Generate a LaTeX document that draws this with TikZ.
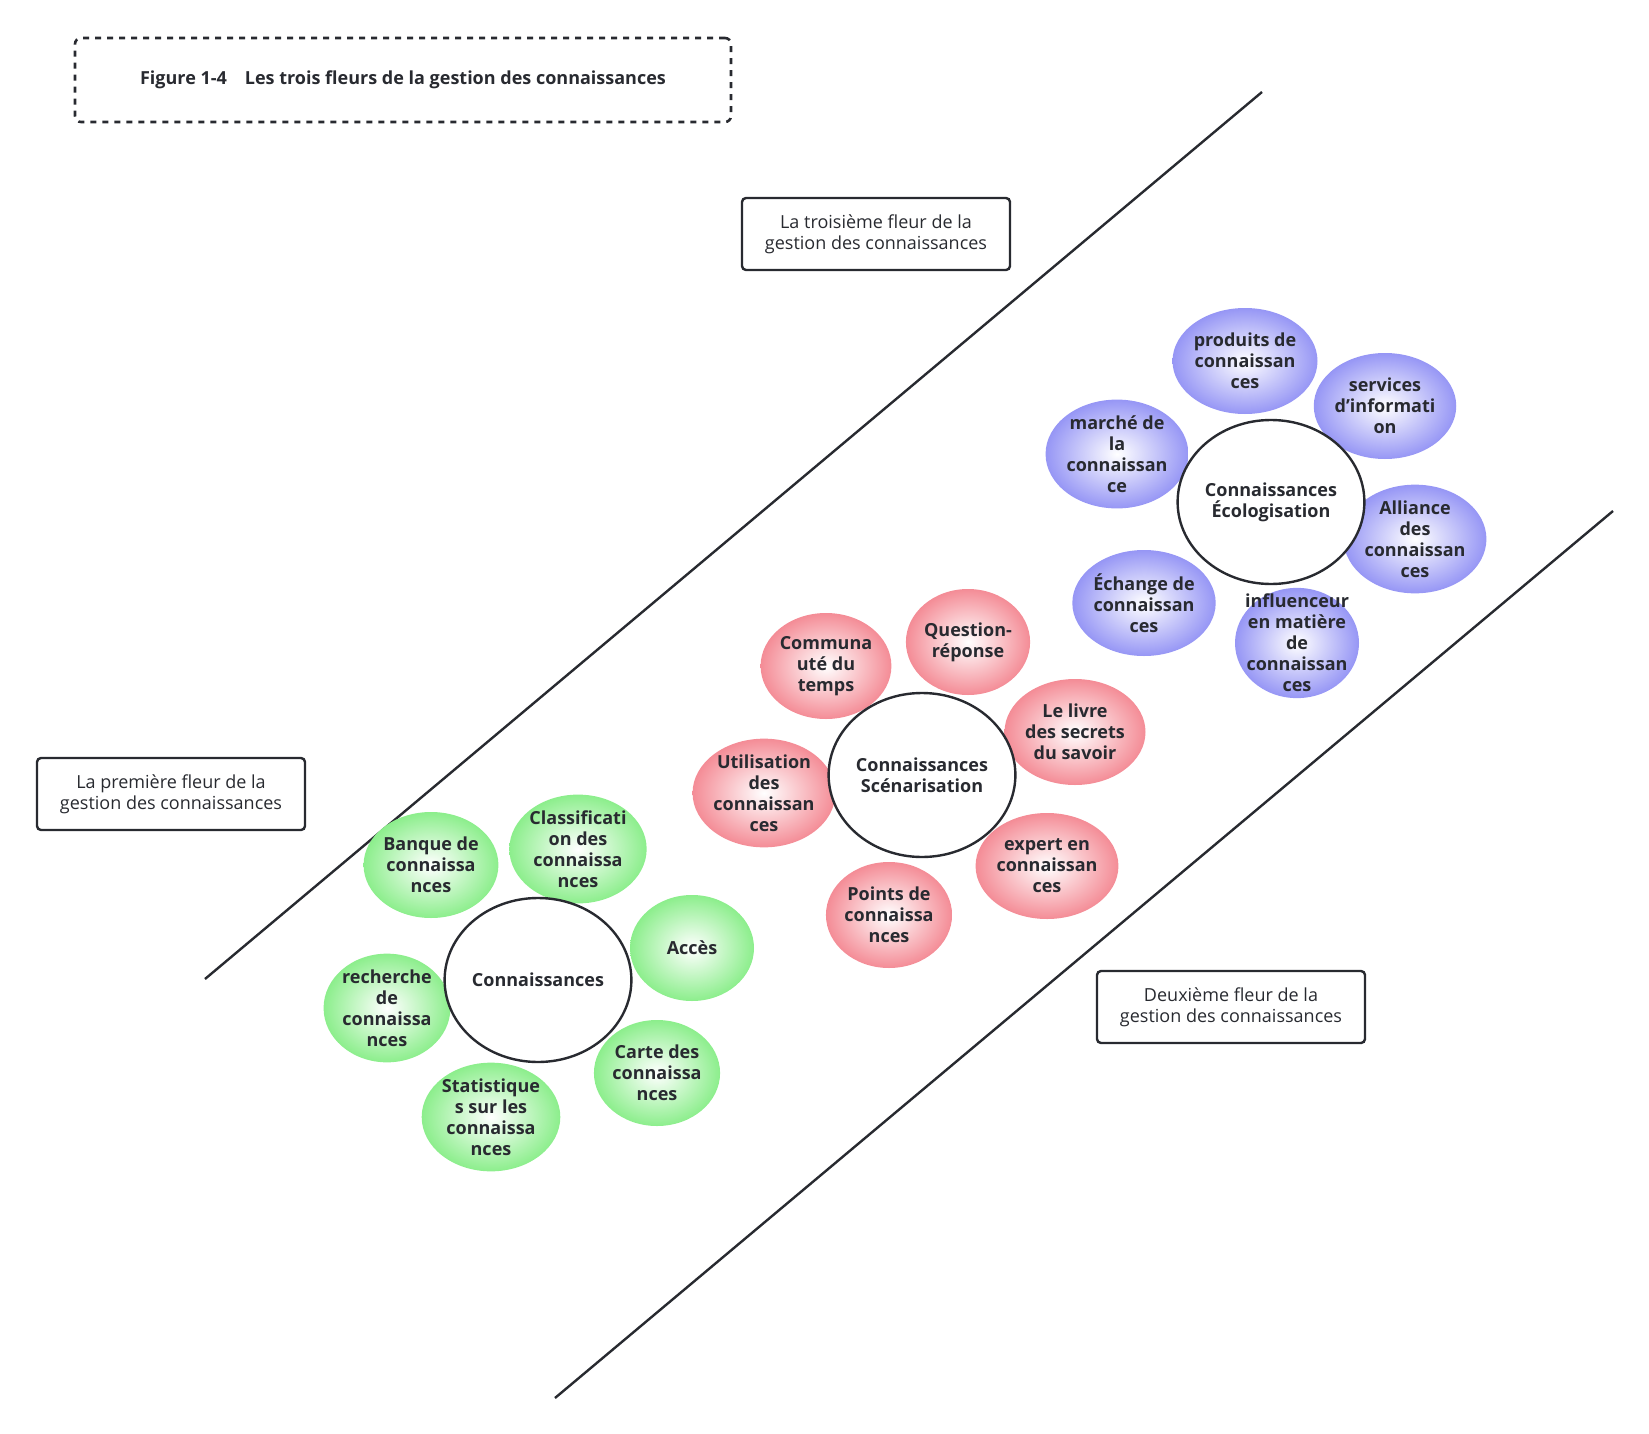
\documentclass[tikz,border=0pt]{standalone}
\usepackage{fontspec}
\setmainfont{Open Sans}
\usetikzlibrary{shapes.geometric}
\definecolor{gp}{RGB}{140,238,140}
\definecolor{rp}{RGB}{244,140,150}
\definecolor{bp}{RGB}{150,150,245}
\definecolor{ink}{RGB}{40,42,48}
\begin{document}
\begin{tikzpicture}[x=0.5pt,y=-0.5pt, font=\fontsize{9}{10.5}\selectfont\bfseries,
    petal/.style = {ellipse, minimum width=62pt, minimum height=53pt, inner sep=0pt, align=center, text=ink},
    green/.style = {petal, shading=radial, inner color=white, outer color=gp},
    red/.style = {petal, shading=radial, inner color=white, outer color=rp},
    blue/.style = {petal, shading=radial, inner color=white, outer color=bp},
    core/.style = {ellipse, draw=ink, line width=1.2pt, fill=white, inner sep=0pt, minimum width=89pt, minimum height=82pt, align=center, text=ink},
    label/.style = {draw=ink, line width=1.2pt, rounded corners=2pt, minimum width=134pt, minimum height=36pt, align=center, font=\fontsize{9}{10.5}\selectfont, text=ink}]
    \useasboundingbox (0,0) rectangle (1649,1434);

    % title and captions
    \node[draw=ink, dashed, line width=1.3pt, rounded corners=3pt, minimum width=328pt, minimum height=42pt, text=ink] (title) at (403,80) {Figure 1-4\quad Les trois fleurs de la gestion des connaissances};
    \node[label] (l3) at (876,234) {La troisième fleur de la\\gestion des connaissances};
    \node[label] (l1) at (171,794) {La première fleur de la\\gestion des connaissances};
    \node[label] (l2) at (1231,1007) {Deuxième fleur de la\\gestion des connaissances};

    % borders of the band
    \coordinate (a1) at (205,979);
    \coordinate (a2) at (1262,92);
    \coordinate (b1) at (555,1398);
    \coordinate (b2) at (1613,511);
    \draw[ink, line width=1.2pt] (a1) -- (a2);
    \draw[ink, line width=1.2pt] (b1) -- (b2);

    % first flower
    \node[green] (g1) at (431,865) {Banque de\\connaissa\\nces};
    \node[green] (g2) at (578,849) {Classificati\\on des\\connaissa\\nces};
    \node[green] (g3) at (692,948) {Accès};
    \node[green] (g4) at (657,1073) {Carte des\\connaissa\\nces};
    \node[green] (g5) at (491,1117) {Statistique\\s sur les\\connaissa\\nces};
    \node[green] (g6) at (387,1008) {recherche\\de\\connaissa\\nces};
    \node[core] (c1) at (538,980) {Connaissances};

    % second flower
    \node[red] (r1) at (826,666) {Communa\\uté du\\temps};
    \node[red] (r2) at (968,642) {Question-\\réponse};
    \node[red] (r3) at (1075,732) {Le livre\\des secrets\\du savoir};
    \node[red] (r4) at (1047,866) {expert en\\connaissan\\ces};
    \node[red] (r5) at (889,915) {Points de\\connaissa\\nces};
    \node[red] (r6) at (764,793) {Utilisation\\des\\connaissan\\ces};
    \node[core] (c2) at (922,775) {Connaissances\\Scénarisation};

    % third flower
    \node[blue] (b1n) at (1245,361) {produits de\\connaissan\\ces};
    \node[blue] (b2n) at (1385,406) {services\\d'informati\\on};
    \node[blue] (b3n) at (1415,539) {Alliance\\des\\connaissan\\ces};
    \node[blue, inner sep=-5pt] (b4n) at (1297,643) {influenceur\\en matière\\de\\connaissan\\ces};
    \node[blue] (b5n) at (1144,603) {Échange de\\connaissan\\ces};
    \node[blue] (b6n) at (1117,454) {marché de\\la\\connaissan\\ce};
    \node[core] (c3) at (1271,502) {Connaissances\\Écologisation};
\end{tikzpicture}
\end{document}
